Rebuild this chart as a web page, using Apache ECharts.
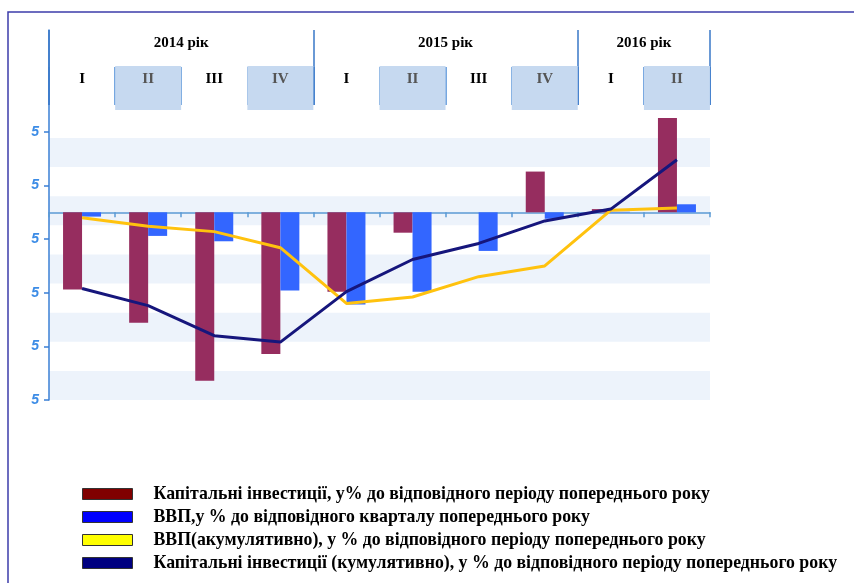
<!DOCTYPE html>
<html>
<head>
<meta charset="utf-8">
<script src="https://cdn.jsdelivr.net/npm/echarts@6/dist/echarts.min.js"></script>
<style>
html,body{margin:0;padding:0;background:#fff;}
#chart{width:854px;height:583px;}
</style>
</head>
<body>
<div id="chart"></div>
<script>
// ---- data ----
const categories = ['2014-I','2014-II','2014-III','2014-IV','2015-I','2015-II','2015-III','2015-IV','2016-I','2016-II'];
const quarterLabels = ['I','II','III','IV','I','II','III','IV','I','II'];
const years = ['2014 рік','2015 рік','2016 рік'];
const yearStartIndex = [0, 4, 8];
const yearQuarterCount = [4, 4, 2];
const capInvest = [-7.2, -10.3, -15.7, -13.2, -7.4, -1.9, 0, 3.8, 0.3, 8.8];
const gdp = [-0.4, -2.2, -2.7, -7.3, -8.6, -7.4, -3.6, -0.6, 0.05, 0.75];
const gdpCum = [-0.5, -1.3, -1.8, -3.3, -8.5, -7.9, -6.0, -5.0, 0.2, 0.4];
const capInvestCum = [-7.1, -8.7, -11.5, -12.1, -7.4, -4.4, -2.9, -0.8, 0.3, 4.9];
const yTickValues = [-17.5, -12.5, -7.5, -2.5, 2.5, 7.5];
const yTickLabels = ['5', '5', '5', '5', '5', '5'];
const bandCount = 9;
const seriesNames = [
  'Капітальні інвестиції, у% до відповідного періоду попереднього року',
  'ВВП,у % до відповідного кварталу попереднього року',
  'ВВП(акумулятивно), у % до відповідного періоду попереднього року',
  'Капітальні інвестиції (кумулятивно), у % до відповідного періоду попереднього року'
];
const legendColors = ['#800000', '#0000FF', '#FFFF00', '#000080'];

// year label positions (category index left of year's centre)
const yearLabelAt = {};
years.forEach((y, k) => {
  yearLabelAt[yearStartIndex[k] + yearQuarterCount[k] / 2 - 1] = y;
});

const serif = 'Liberation Serif';
const axisBlue = '#4A8AD6';

const chart = echarts.init(document.getElementById('chart'));
const option = {
  animation: false,
  backgroundColor: '#fff',
  graphic: [{
    type: 'rect', silent: true, z: -10,
    shape: { x: 8, y: 12, width: 1000, height: 1000 },
    style: { fill: 'none', stroke: '#3C3CAA', lineWidth: 1.5 }
  }],
  grid: [
    { left: 49, right: 144, top: 30, bottom: 183 },
    { left: 49, right: 144, top: 138, bottom: 183 }
  ],
  legend: {
    orient: 'vertical', left: 82, top: 485, padding: 0,
    itemWidth: 50, itemHeight: 11, itemGap: 5,
    icon: 'rect',
    data: seriesNames.map((n, i) => ({
      name: n,
      icon: 'rect',
      itemStyle: { color: legendColors[i], borderColor: '#333', borderWidth: 1 }
    })),
    textStyle: {
      fontFamily: serif, fontWeight: 'bold', fontSize: 17.8, color: '#000',
      lineHeight: 15, padding: [0, 0, 0, 16]
    }
  },
  xAxis: [
    { // main axis on zero
      type: 'category', data: categories, gridIndex: 0, position: 'bottom',
      axisLine: { onZero: true, lineStyle: { color: '#5B9BD5', width: 1.5 } },
      axisTick: { show: true, interval: 0, length: 5, lineStyle: { color: '#5B9BD5', width: 1.5 } },
      axisLabel: { show: false }, splitLine: { show: false }
    },
    { // quarter header
      type: 'category', data: categories, gridIndex: 0, position: 'top', offset: -75,
      axisLine: { show: false, onZero: false },
      axisTick: { show: true, interval: 0, length: 38, lineStyle: { color: axisBlue, width: 1.5 } },
      axisLabel: {
        show: true, interval: 0, margin: 9,
        formatter: (v, i) => (i % 2 === 1 ? '{s|' : '{p|') + quarterLabels[i] + '}',
        rich: {
          p: { fontFamily: serif, fontWeight: 'bold', fontSize: 15, lineHeight: 16, color: '#000',
               width: 66, align: 'center', padding: [6, 0, 23, 0] },
          s: { fontFamily: serif, fontWeight: 'bold', fontSize: 15, lineHeight: 16, color: '#555',
               width: 66, align: 'center', padding: [6, 0, 23, 0], backgroundColor: '#C6D9F0' }
        }
      },
      splitLine: { show: false }
    },
    { // year header
      type: 'category', data: categories, gridIndex: 0, position: 'top', offset: -75,
      axisLine: { show: false, onZero: false },
      axisTick: { show: true, length: 75, interval: (i) => yearStartIndex.indexOf(i) >= 0,
                  lineStyle: { color: '#3A78C8', width: 1.5 } },
      axisLabel: {
        show: true, interval: 0, margin: 54, padding: [0, 0, 0, 66],
        fontFamily: serif, fontWeight: 'bold', fontSize: 15, lineHeight: 16, color: '#000',
        formatter: (v, i) => yearLabelAt[i] || ''
      },
      splitLine: { show: false }
    },
    { type: 'value', gridIndex: 1, min: 0, max: 1, show: false }
  ],
  yAxis: [
    {
      type: 'value', gridIndex: 0, min: -17.5, max: 17, interval: 5,
      axisLine: { show: true, lineStyle: { color: '#3A7FD5', width: 1.5 } },
      axisTick: { show: true, length: 5, customValues: yTickValues, lineStyle: { color: '#3A7FD5', width: 1.5 } },
      axisLabel: {
        show: true, margin: 10, customValues: yTickValues,
        fontFamily: 'Liberation Sans', fontWeight: 'bold', fontStyle: 'italic', fontSize: 14, color: '#3C8CE6',
        formatter: (v) => { const k = yTickValues.indexOf(v); return k >= 0 ? yTickLabels[k] : ''; }
      },
      splitLine: { show: false }
    },
    {
      type: 'value', gridIndex: 1, min: 0, max: bandCount, interval: 1,
      axisLine: { show: false }, axisTick: { show: false }, axisLabel: { show: false },
      splitLine: { show: false },
      splitArea: { show: true, areaStyle: { color: ['#EDF3FB', 'rgba(255,255,255,0)'] } }
    }
  ],
  series: [
    { name: seriesNames[0], type: 'bar', xAxisIndex: 0, yAxisIndex: 0, data: capInvest,
      barWidth: 19, barGap: '0%', itemStyle: { color: '#962D5F' } },
    { name: seriesNames[1], type: 'bar', xAxisIndex: 0, yAxisIndex: 0, data: gdp,
      barWidth: 19, barGap: '0%', itemStyle: { color: '#3366FF' } },
    { name: seriesNames[2], type: 'line', xAxisIndex: 0, yAxisIndex: 0, data: gdpCum,
      symbol: 'none', lineStyle: { color: '#FFC20E', width: 3 }, itemStyle: { color: '#FFC20E' } },
    { name: seriesNames[3], type: 'line', xAxisIndex: 0, yAxisIndex: 0, data: capInvestCum,
      symbol: 'none', lineStyle: { color: '#16167C', width: 3 }, itemStyle: { color: '#16167C' } }
  ]
};
chart.setOption(option);
</script>
</body>
</html>
